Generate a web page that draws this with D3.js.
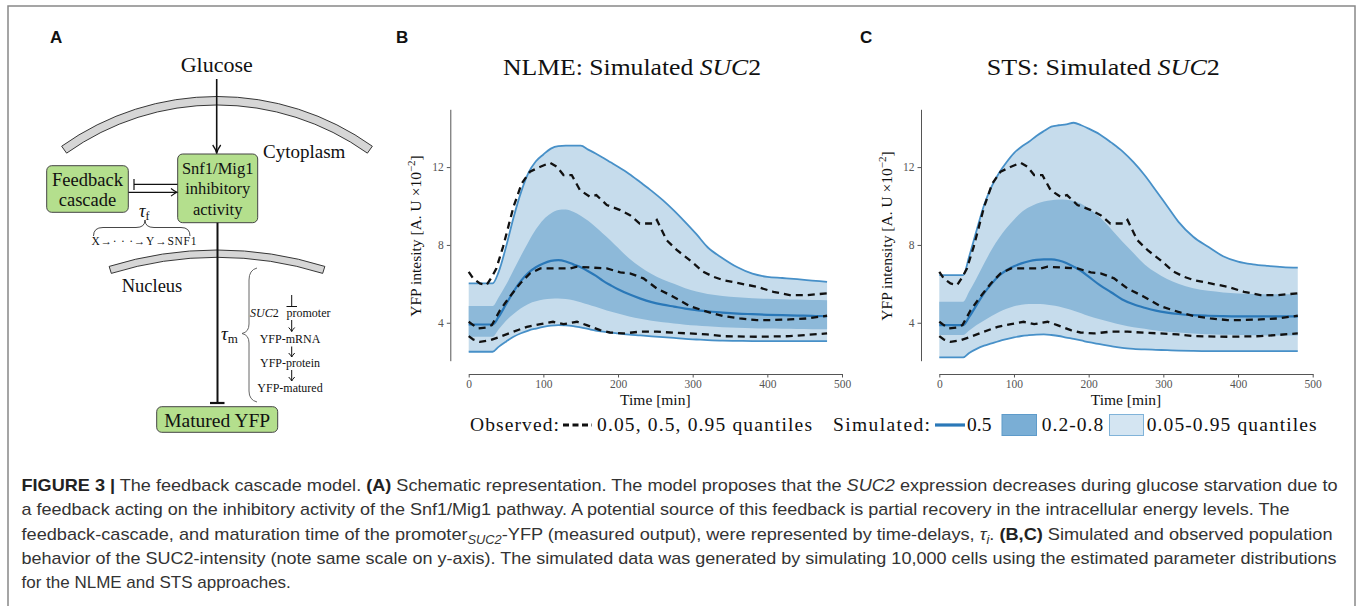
<!DOCTYPE html>
<html>
<head>
<style>
  body { margin: 0; background: #fff; }
  svg text { font-family: "Liberation Serif", "Times New Roman", serif; fill: #111; }
  .caption text { font-family: "Liberation Sans", Arial, sans-serif; fill: #333; font-size: 17px; }
  .tick text { fill: #555; font-size: 11.5px; font-family: "Liberation Serif", serif; }
  .axis path, .axis line { stroke: #555; }
  .panel-label { font-family: "Liberation Sans", Arial, sans-serif !important; font-weight: bold; font-size: 17px; }
</style>
</head>
<body>
<script src="https://d3js.org/d3.v7.min.js"></script>
<script>
// ---- data ----
var ticksX = [0, 100, 200, 300, 400, 500];
var ticksY = [4, 8, 12];

var simTime = [0, 32, 40, 50, 60, 70, 80, 90, 100, 110, 120, 130, 140, 150, 160, 170, 180, 190, 200,
  215, 230, 245, 260, 275, 290, 305, 320, 340, 360, 380, 400, 420, 440, 460, 480];

var nlmeQ95 = [6.02, 6.02, 6.6, 7.9, 9.4, 10.7, 11.7, 12.3, 12.65, 12.95, 13.08, 13.1, 13.1, 13.1, 12.9, 12.7, 12.48, 12.25, 12.02,
  11.65, 11.22, 10.78, 10.3, 9.76, 9.17, 8.55, 7.88, 7.32, 6.85, 6.52, 6.36, 6.3, 6.24, 6.17, 6.1];
var nlmeQ80 = [4.86, 4.86, 5.3, 5.95, 6.7, 7.45, 8.15, 8.8, 9.3, 9.62, 9.8, 9.82, 9.7, 9.5, 9.24, 8.92, 8.58, 8.23, 7.85,
  7.3, 6.86, 6.5, 6.22, 6.0, 5.77, 5.6, 5.48, 5.38, 5.31, 5.26, 5.23, 5.21, 5.19, 5.17, 5.16];
var nlmeQ50 = [3.91, 3.91, 4.3, 4.95, 5.6, 6.15, 6.57, 6.85, 7.05, 7.18, 7.22, 7.15, 7.0, 6.85, 6.65, 6.42, 6.15, 5.93, 5.72,
  5.46, 5.24, 5.06, 4.93, 4.83, 4.73, 4.65, 4.59, 4.52, 4.47, 4.44, 4.41, 4.39, 4.37, 4.35, 4.34];
var nlmeQ20 = [3.28, 3.28, 3.65, 4.1, 4.45, 4.75, 4.97, 5.1, 5.19, 5.24, 5.25, 5.22, 5.16, 5.06, 4.94, 4.82, 4.7, 4.58, 4.47,
  4.32, 4.2, 4.1, 4.02, 3.96, 3.9, 3.86, 3.82, 3.77, 3.74, 3.72, 3.7, 3.69, 3.68, 3.67, 3.66];
var nlmeQ05 = [2.51, 2.51, 2.76, 3.03, 3.28, 3.46, 3.6, 3.7, 3.79, 3.85, 3.88, 3.87, 3.83, 3.76, 3.68, 3.6, 3.54, 3.49, 3.45,
  3.39, 3.35, 3.3, 3.26, 3.22, 3.17, 3.14, 3.11, 3.08, 3.07, 3.06, 3.06, 3.06, 3.06, 3.06, 3.06];

var stsQ95 = [6.45, 6.45, 7.4, 8.75, 10.05, 11.0, 11.7, 12.25, 12.72, 13.05, 13.3, 13.6, 13.85, 14.08, 14.15, 14.2, 14.28, 14.15, 13.98,
  13.68, 13.27, 12.82, 12.25, 11.58, 10.8, 10.0, 9.2, 8.42, 7.9, 7.42, 7.14, 7.0, 6.92, 6.86, 6.83];
var stsQ80 = [5.08, 5.08, 5.6, 6.3, 7.05, 7.75, 8.35, 8.87, 9.3, 9.68, 9.93, 10.12, 10.23, 10.3, 10.34, 10.32, 10.26, 10.12, 9.88,
  9.42, 8.82, 8.17, 7.58, 7.0, 6.58, 6.25, 6.0, 5.77, 5.64, 5.56, 5.51, 5.48, 5.47, 5.47, 5.47];
var stsQ50 = [3.88, 3.88, 4.3, 4.92, 5.52, 6.0, 6.42, 6.7, 6.9, 7.05, 7.16, 7.23, 7.26, 7.26, 7.2, 7.07, 6.88, 6.66, 6.37,
  5.93, 5.57, 5.2, 4.95, 4.77, 4.62, 4.52, 4.45, 4.39, 4.36, 4.34, 4.33, 4.33, 4.33, 4.33, 4.33];
var stsQ20 = [3.37, 3.37, 3.6, 3.88, 4.12, 4.35, 4.55, 4.72, 4.85, 4.93, 4.97, 4.97, 4.95, 4.9, 4.83, 4.73, 4.62, 4.49, 4.35,
  4.18, 4.03, 3.88, 3.77, 3.69, 3.6, 3.54, 3.5, 3.45, 3.41, 3.38, 3.37, 3.36, 3.35, 3.35, 3.35];
var stsQ05 = [2.22, 2.22, 2.45, 2.66, 2.82, 2.94, 3.06, 3.16, 3.25, 3.32, 3.36, 3.39, 3.4, 3.37, 3.32, 3.24, 3.17, 3.09, 3.0,
  2.9, 2.8, 2.71, 2.66, 2.63, 2.61, 2.59, 2.57, 2.55, 2.54, 2.54, 2.54, 2.54, 2.54, 2.54, 2.54];

// observed quantiles, [time, value]
var obsQ95 = [[0,6.62],[6,6.28],[15,6.02],[24,5.94],[31,6.36],[37,6.79],[46,7.9],[60,9.96],[71,11.16],[82,11.76],[96,12.02],
  [109,12.22],[118,12.02],[127,11.59],[138,11.59],[149,10.82],[162,10.48],[171,10.56],[185,10.05],[203,9.79],[216,9.53],
  [229,9.1],[247,9.1],[252,9.28],[265,8.25],[279,7.73],[296,7.22],[314,6.62],[328,6.36],[341,6.19],[363,6.02],[386,5.85],
  [408,5.59],[430,5.42],[453,5.42],[480,5.51]];
var obsQ50 = [[0,4.05],[6,3.88],[13,3.71],[24,3.76],[31,3.88],[42,4.65],[55,5.34],[69,6.02],[82,6.54],[96,6.79],[109,6.79],
  [122,6.79],[136,6.79],[145,6.88],[162,6.84],[185,6.79],[203,6.59],[216,6.54],[234,6.28],[252,5.76],[274,5.34],[296,4.86],
  [319,4.57],[341,4.34],[363,4.22],[386,4.14],[408,4.14],[430,4.17],[453,4.22],[480,4.36]];
var obsQ05 = [[0,3.31],[6,3.14],[15,3.02],[29,3.11],[42,3.28],[60,3.54],[78,3.79],[96,3.93],[113,4.05],[127,3.93],[145,4.05],
  [158,3.88],[176,3.62],[189,3.5],[207,3.45],[229,3.54],[252,3.54],[274,3.49],[296,3.45],[319,3.4],[341,3.31],[386,3.28],
  [430,3.31],[480,3.45]];

var lightBlue = "#c6dcec", midBlue = "#8db9d9", edgeBlue = "#4790c8", medBlue = "#2a78b8";

var svg = d3.select("body").append("svg").attr("width", 1358).attr("height", 606);

// frame
svg.append("rect").attr("x", 8).attr("y", 6).attr("width", 1347).attr("height", 640)
  .attr("fill", "none").attr("stroke", "#888").attr("stroke-width", 1.5);

svg.append("text").attr("class", "panel-label").attr("x", 50).attr("y", 43).text("A");
svg.append("text").attr("class", "panel-label").attr("x", 396).attr("y", 43).text("B");
svg.append("text").attr("class", "panel-label").attr("x", 860).attr("y", 43).text("C");

// ---- panels B and C ----
var y = d3.scaleLinear().domain([2.05, 14.97]).range([360.7, 109.3]);

drawPanel({ x0: 468.7, x1: 842, axisX: 450.3, titleX: 632, titleW: 258, name: "NLME", ylab: "YFP intesity",
  q95: nlmeQ95, q80: nlmeQ80, q50: nlmeQ50, q20: nlmeQ20, q05: nlmeQ05 });
drawPanel({ x0: 939.3, x1: 1312.7, axisX: 921, titleX: 1103.3, titleW: 233, name: "STS", ylab: "YFP intensity",
  q95: stsQ95, q80: stsQ80, q50: stsQ50, q20: stsQ20, q05: stsQ05 });

function drawPanel(p) {
  var x = d3.scaleLinear().domain([0, 500]).range([p.x0, p.x1]);
  var g = svg.append("g");

  var band = function(lo, hi) {
    return d3.area().curve(d3.curveMonotoneX)
      .x(function(d, i) { return x(simTime[i]); })
      .y0(function(d, i) { return y(lo[i]); })
      .y1(function(d, i) { return y(hi[i]); })(simTime);
  };
  var sline = function(vals) {
    return d3.line().curve(d3.curveMonotoneX)
      .x(function(d, i) { return x(simTime[i]); })
      .y(function(d) { return y(d); })(vals);
  };
  var oline = d3.line().x(function(d) { return x(d[0]); }).y(function(d) { return y(d[1]); });

  g.append("path").attr("d", band(p.q05, p.q95)).attr("fill", lightBlue);
  g.append("path").attr("d", band(p.q20, p.q80)).attr("fill", midBlue);
  [p.q95, p.q05].forEach(function(v) {
    g.append("path").attr("d", sline(v)).attr("fill", "none").attr("stroke", edgeBlue).attr("stroke-width", 1.8);
  });
  g.append("path").attr("d", sline(p.q50)).attr("fill", "none").attr("stroke", medBlue).attr("stroke-width", 2.2);

  [obsQ95, obsQ50, obsQ05].forEach(function(v) {
    g.append("path").attr("d", oline(v)).attr("fill", "none").attr("stroke", "#111")
      .attr("stroke-width", 2.3).attr("stroke-dasharray", "7,5");
  });

  g.append("g").attr("class", "axis").attr("transform", "translate(0,374)")
    .call(d3.axisBottom(x).tickValues(ticksX).tickSize(3.5).tickSizeOuter(0).tickPadding(2.5));
  g.append("g").attr("class", "axis").attr("transform", "translate(" + p.axisX + ",0)")
    .call(d3.axisLeft(y).tickValues(ticksY).tickSize(3.5).tickSizeOuter(0).tickPadding(3));

  g.append("text").attr("x", (p.x0 + p.x1) / 2).attr("y", 405).attr("text-anchor", "middle")
    .style("font-size", "15.5px").text("Time [min]");

  var yl = g.append("text").attr("transform", "translate(" + (p.axisX - 29) + ",236) rotate(-90)")
    .attr("text-anchor", "middle").style("font-size", "15.5px");
  yl.append("tspan").text(p.ylab + " [A. U \u00d710");
  yl.append("tspan").attr("dy", -6).style("font-size", "11px").text("\u22122");
  yl.append("tspan").attr("dy", 6).text("]");

  var t = g.append("text").attr("x", p.titleX - p.titleW / 2).attr("y", 75)
    .attr("textLength", p.titleW).attr("lengthAdjust", "spacingAndGlyphs").style("font-size", "24px");
  t.append("tspan").text(p.name + ": Simulated ");
  t.append("tspan").style("font-style", "italic").text("SUC");
  t.append("tspan").text("2");
}

// ---- legend ----
var lg = svg.append("g").style("font-size", "19.5px");
lg.append("text").attr("x", 470).attr("y", 431).attr("textLength", 89).text("Observed:");
lg.append("line").attr("x1", 563).attr("x2", 592).attr("y1", 425).attr("y2", 425)
  .attr("stroke", "#111").attr("stroke-width", 3.2).attr("stroke-dasharray", "6,3.5");
lg.append("text").attr("x", 597).attr("y", 431).attr("textLength", 215).text("0.05, 0.5, 0.95 quantiles");
lg.append("text").attr("x", 833).attr("y", 431).attr("textLength", 97).text("Simulated:");
lg.append("line").attr("x1", 935).attr("x2", 965).attr("y1", 425).attr("y2", 425)
  .attr("stroke", medBlue).attr("stroke-width", 3.2);
lg.append("text").attr("x", 967).attr("y", 431).text("0.5");
lg.append("rect").attr("x", 1002).attr("y", 414.5).attr("width", 34.5).attr("height", 21)
  .attr("fill", "#7aaed5").attr("stroke", "#5e9bca").attr("stroke-width", 1);
lg.append("text").attr("x", 1041.7).attr("y", 431).attr("textLength", 61.6).text("0.2-0.8");
lg.append("rect").attr("x", 1109.5).attr("y", 414.5).attr("width", 34).attr("height", 21)
  .attr("fill", "#d4e5f2").attr("stroke", "#80b3d9").attr("stroke-width", 1);
lg.append("text").attr("x", 1146.7).attr("y", 431).attr("textLength", 170).text("0.05-0.95 quantiles");

// ---- panel A schematic ----
var a = svg.append("g");
var green = "#b4df8d";

function membrane(cx, cy, rIn, rOut, deg) {
  var arc = d3.arc().innerRadius(rIn).outerRadius(rOut)
    .startAngle(-deg * Math.PI / 180).endAngle(deg * Math.PI / 180);
  a.append("path").attr("transform", "translate(" + cx + "," + cy + ")").attr("d", arc())
    .attr("fill", "#d6d6d6").attr("stroke", "#222").attr("stroke-width", 0.9);
}
membrane(217, 364, 259, 267.5, 35.5);
membrane(217, 612.7, 355.4, 362.7, 17.3);

function box(x, y0, w, h, lines, size) {
  a.append("rect").attr("x", x).attr("y", y0).attr("width", w).attr("height", h).attr("rx", 5)
    .attr("fill", green).attr("stroke", "#444").attr("stroke-width", 1);
  lines.forEach(function(l) {
    a.append("text").attr("x", x + w / 2).attr("y", l[1]).attr("text-anchor", "middle")
      .style("font-size", size + "px").text(l[0]);
  });
}
box(177.7, 154, 80, 68.7, [["Snf1/Mig1", 173.5], ["inhibitory", 194], ["activity", 214.5]], 16.5);
box(46.7, 165.7, 81.6, 46.6, [["Feedback", 186], ["cascade", 206]], 18.5);
box(156.7, 406.7, 121, 25.6, [["Matured YFP", 427]], 19.5);

a.append("text").attr("x", 216.7).attr("y", 72).attr("text-anchor", "middle").style("font-size", "22px").text("Glucose");
a.append("text").attr("x", 263).attr("y", 158).style("font-size", "19px").text("Cytoplasm");
a.append("text").attr("x", 121.7).attr("y", 291.5).style("font-size", "18.5px").text("Nucleus");

function seg(x1, y1, x2, y2, w, c) {
  a.append("line").attr("x1", x1).attr("y1", y1).attr("x2", x2).attr("y2", y2)
    .attr("stroke", c || "#111").attr("stroke-width", w);
}
// glucose arrow
seg(216.7, 79, 216.7, 152, 1.6);
a.append("path").attr("d", "M212.7,145 Q215.7,149 216.7,153.5 Q217.7,149 220.7,145").attr("fill", "none")
  .attr("stroke", "#111").attr("stroke-width", 1.3);
// inhibition to feedback
seg(177.5, 184.3, 134, 184.3, 1.2);
seg(134, 179, 134, 190, 1.2);
// activation from feedback
seg(128.5, 192.3, 176.5, 192.3, 1.2);
a.append("path").attr("d", "M171,188.5 Q174.5,191.3 177,192.3 Q174.5,193.3 171,196.1").attr("fill", "none")
  .attr("stroke", "#111").attr("stroke-width", 1.1);
// main inhibitory line
seg(217.5, 222.7, 217.5, 403, 2);
seg(210, 403, 224.5, 403, 2.2);

// tau_f brace and cascade
var tf = a.append("text").attr("x", 139).attr("y", 217).style("font-size", "18px");
tf.append("tspan").style("font-style", "italic").text("\u03c4");
tf.append("tspan").attr("dy", 3).style("font-size", "12px").text("f");
a.append("path").attr("d", "M93.5,236 Q93.5,227.5 103,227.5 L136,227.5 Q145,227.5 145,220 Q145,227.5 154,227.5 L181,227.5 Q190,227.5 190,236")
  .attr("fill", "none").attr("stroke", "#333").attr("stroke-width", 0.9);
a.append("text").attr("x", 91.5).attr("y", 244.5).attr("textLength", 105).style("font-size", "11.5px")
  .text("X\u2192\u00b7 \u00b7 \u00b7\u2192Y\u2192SNF1");

// tau_m brace and maturation steps
var tm = a.append("text").attr("x", 221).attr("y", 340).style("font-size", "19px");
tm.append("tspan").style("font-style", "italic").text("\u03c4");
tm.append("tspan").attr("dy", 3).style("font-size", "13px").text("m");
a.append("path").attr("d", "M257,268 Q249,270 249,280 L249,324 Q249,332 242,333.5 Q249,335 249,343 L249,391 Q249,400 257,402")
  .attr("fill", "none").attr("stroke", "#555").attr("stroke-width", 0.9);

var sp = a.append("text").attr("x", 250).attr("y", 317).style("font-size", "12px");
sp.append("tspan").style("font-style", "italic").text("SUC");
sp.append("tspan").text("2");
a.append("text").attr("x", 286.5).attr("y", 317).style("font-size", "12px").text("promoter");
seg(291.7, 295, 291.7, 306.5, 1);
seg(286.5, 306.5, 297, 306.5, 1);
[[320, 331.5], [346.5, 357], [370, 381]].forEach(function(r) {
  seg(291.7, r[0], 291.7, r[1], 1);
  a.append("path").attr("d", "M288.7," + (r[1] - 4) + " Q291," + (r[1] - 1.5) + " 291.7," + r[1] + " Q292.4," + (r[1] - 1.5) + " 294.7," + (r[1] - 4))
    .attr("fill", "none").attr("stroke", "#111").attr("stroke-width", 1);
});
[["YFP-mRNA", 343], ["YFP-protein", 366.5], ["YFP-matured", 391.5]].forEach(function(l) {
  a.append("text").attr("x", 290).attr("y", l[1]).attr("text-anchor", "middle").style("font-size", "12px").text(l[0]);
});

// ---- caption ----
var cap = svg.append("g").attr("class", "caption");
var capLines = [
  { y: 491, w: 1316, parts: [["FIGURE 3 |", "b"], [" The feedback cascade model. "], ["(A)", "b"],
    [" Schematic representation. The model proposes that the "], ["SUC2", "i"],
    [" expression decreases during glucose starvation due to"]] },
  { y: 515.3, w: 1268, parts: [["a feedback acting on the inhibitory activity of the Snf1/Mig1 pathway. A potential source of this feedback is partial recovery in the intracellular energy levels. The"]] },
  { y: 539.5, w: 1311, parts: [["feedback-cascade, and maturation time of the promoter"], ["SUC2", "sub"],
    ["-YFP (measured output), were represented by time-delays, ", "up"], ["\u03c4", "i"], ["i", "sub"], [". ", "up"], ["(B,C)", "b"],
    [" Simulated and observed population"]] },
  { y: 563.8, w: 1315, parts: [["behavior of the SUC2-intensity (note same scale on y-axis). The simulated data was generated by simulating 10,000 cells using the estimated parameter distributions"]] },
  { y: 588, w: null, parts: [["for the NLME and STS approaches."]] }
];
capLines.forEach(function(l) {
  var t = cap.append("text").attr("x", 21.5).attr("y", l.y);
  if (l.w) t.attr("textLength", l.w).attr("lengthAdjust", "spacingAndGlyphs");
  var down = false;
  l.parts.forEach(function(pt) {
    var s = t.append("tspan").text(pt[0]);
    if (pt[1] === "b") s.style("font-weight", "bold").style("fill", "#222");
    if (pt[1] === "i") s.style("font-style", "italic");
    if (pt[1] === "sub") {
      s.style("font-style", "italic").style("font-size", "12px");
      if (!down) { s.attr("dy", 4); down = true; }
    }
    if (pt[1] === "up" && down) { s.attr("dy", -4); down = false; }
  });
});
</script>
</body>
</html>
